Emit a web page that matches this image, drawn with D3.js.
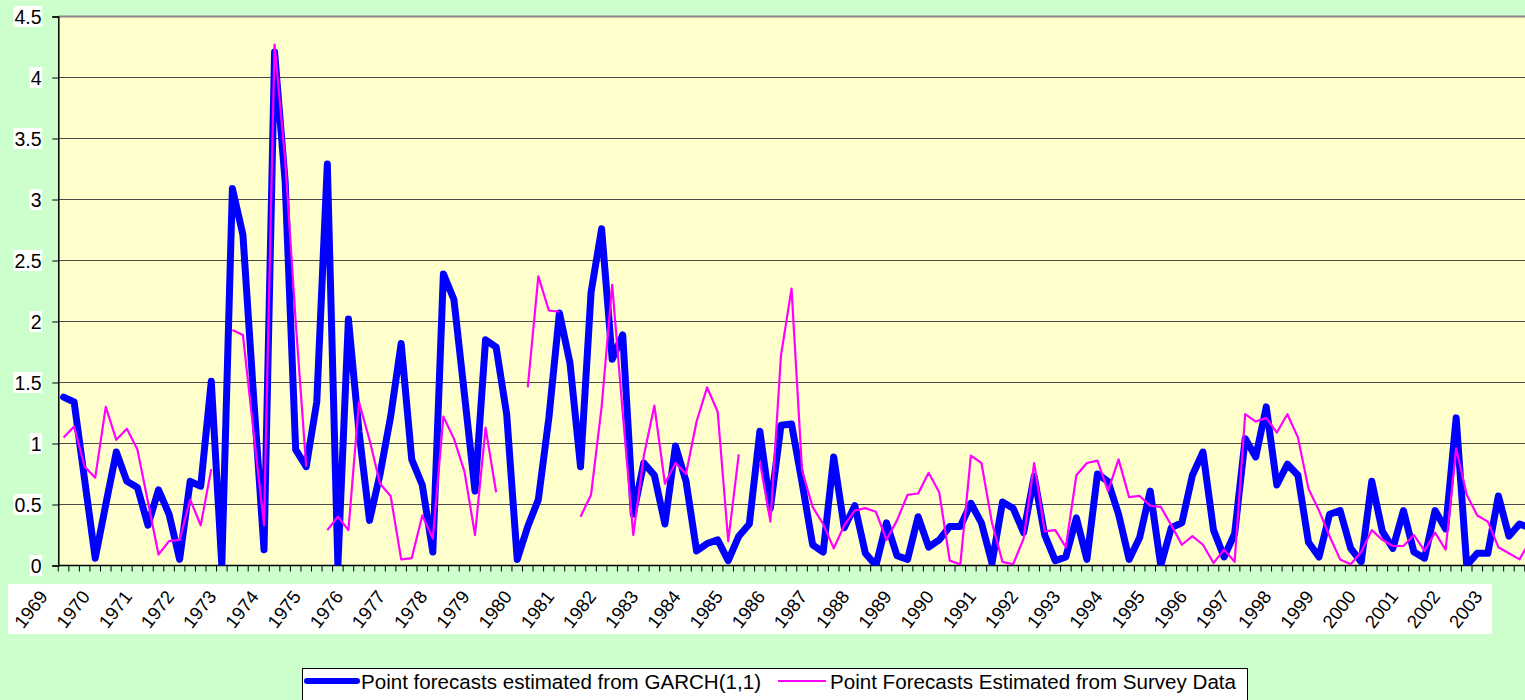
<!DOCTYPE html>
<html><head><meta charset="utf-8">
<script src="https://cdn.jsdelivr.net/npm/d3@7"></script>
<style>
html,body{margin:0;padding:0;overflow:hidden;background:#CCFFCC;}
svg{display:block;font-family:Arial,"Liberation Sans",sans-serif;}
</style>
</head><body>
<svg id="chart" width="1525" height="700"></svg>
<script>
// ---------- data ----------
const years = d3.range(1969, 2004); // tick labels 1969..2003
const quarters = ["Q1","Q2","Q3","Q4"];
const categories = years.flatMap(y => quarters.map(q => y + q));
const yTicks = [0,0.5,1,1.5,2,2.5,3,3.5,4,4.5];
const seriesNames = ["Point forecasts estimated from GARCH(1,1)", "Point Forecasts Estimated from Survey Data"];

const garch = [
1.38,1.34,0.70,0.06, 0.50,0.93,0.69,0.64, 0.33,0.62,0.42,0.05, 0.69,0.65,1.51,0.00,
3.09,2.71,1.40,0.13, 4.21,3.15,0.95,0.81, 1.34,3.29,0.00,2.02, 1.10,0.37,0.75,1.22,
1.82,0.87,0.66,0.11, 2.39,2.18,1.40,0.61, 1.85,1.79,1.24,0.05, 0.32,0.54,1.21,2.07,
1.66,0.81,2.24,2.76, 1.69,1.89,0.42,0.84, 0.74,0.34,0.98,0.69, 0.12,0.18,0.21,0.04,
0.24,0.34,1.10,0.47, 1.15,1.16,0.68,0.17, 0.11,0.89,0.31,0.49, 0.10,0.00,0.35,0.08,
0.05,0.40,0.15,0.21, 0.32,0.32,0.51,0.35, 0.02,0.52,0.47,0.27, 0.73,0.25,0.04,0.07,
0.39,0.05,0.75,0.69, 0.42,0.05,0.23,0.61, 0.00,0.31,0.35,0.74, 0.93,0.29,0.07,0.26,
1.04,0.89,1.30,0.66, 0.83,0.74,0.19,0.07, 0.42,0.45,0.14,0.03, 0.69,0.28,0.14,0.45,
0.11,0.06,0.45,0.30, 1.21,0.00,0.10,0.10, 0.57,0.24,0.34,0.31
];

const survey = [
1.05,1.14,0.81,0.72, 1.30,1.03,1.12,0.95, 0.52,0.09,0.20,0.21, 0.54,0.33,0.79,null,
1.93,1.89,1.10,0.33, 4.27,3.33,2.00,0.81, null,0.29,0.40,0.29, 1.34,1.03,0.67,0.57,
0.05,0.06,0.41,0.22, 1.22,1.04,0.77,0.25, 1.13,0.60,null,null, 1.46,2.37,2.09,2.08,
null,0.40,0.58,1.30, 2.30,1.25,0.25,0.90, 1.31,0.67,0.84,0.75, 1.18,1.46,1.26,0.20,
0.91,null,0.85,0.36, 1.72,2.27,0.78,0.48, 0.34,0.14,0.33,0.45, 0.47,0.44,0.21,0.37,
0.58,0.59,0.76,0.60, 0.04,0.01,0.90,0.84, 0.35,0.03,0.01,0.22, 0.84,0.28,0.29,0.15,
0.74,0.84,0.86,0.61, 0.87,0.56,0.57,0.49, 0.48,0.33,0.17,0.24, 0.17,0.02,0.13,0.03,
1.24,1.18,1.21,1.09, 1.24,1.05,0.63,0.45, 0.24,0.05,0.01,0.11, 0.29,0.21,0.16,0.16,
0.25,0.12,0.27,0.13, 0.96,0.58,0.41,0.36, 0.15,0.10,0.05,0.20
];

// ---------- layout ----------
const svg = d3.select("#chart");
const pLeft = 58.3, step = 10.55;
const pRight = pLeft + categories.length * step; // extends past the window edge
const pTop = 16.5, pBottom = 565.5;

const x = d3.scaleBand().domain(categories).range([pLeft, pRight]).padding(0);
const y = d3.scaleLinear().domain([0, 4.5]).range([pBottom, pTop]);
const cx = c => x(c) + x.bandwidth() / 2;

// plot background
svg.append("rect").attr("x", pLeft).attr("y", pTop)
  .attr("width", pRight - pLeft).attr("height", pBottom - pTop).attr("fill", "#FFFFCC");

// gridlines
svg.append("g").selectAll("line").data(yTicks.filter(t => t > 0 && t < 4.5)).join("line")
  .attr("x1", pLeft).attr("x2", pRight)
  .attr("y1", d => y(d)).attr("y2", d => y(d))
  .attr("stroke", "#4a4a4a").attr("stroke-width", 1);
// top border
svg.append("line").attr("x1", pLeft).attr("x2", pRight).attr("y1", pTop).attr("y2", pTop)
  .attr("stroke", "#888").attr("stroke-width", 2);

// y axis
const yAxis = svg.append("g").attr("transform", `translate(${pLeft},0)`)
  .call(d3.axisLeft(y).tickValues(yTicks).tickSize(6).tickFormat(d3.format("")));
yAxis.select(".domain").attr("stroke", "#000").attr("stroke-width", 1.5);
yAxis.selectAll(".tick line").attr("stroke", "#000");
yAxis.selectAll(".tick text").remove();
// y labels with white boxes
const yl = svg.append("g");
yTicks.forEach(t => {
  const g = yl.append("g");
  const txt = g.append("text").attr("x", 41.5).attr("y", y(t) + 7.5)
    .attr("text-anchor", "end").attr("font-size", 19.5).attr("fill", "#000")
    .text(d3.format("")(t));
  const bb = txt.node().getBBox();
  g.insert("rect", "text").attr("x", bb.x - 1).attr("y", y(t) - 10.5)
    .attr("width", bb.width + 1.5).attr("height", 21).attr("fill", "#fff");
});

// x axis line + ticks
const xa = svg.append("g");
xa.append("line").attr("x1", pLeft).attr("x2", pRight).attr("y1", pBottom).attr("y2", pBottom)
  .attr("stroke", "#000").attr("stroke-width", 1.5);
const tickPos = categories.map(c => x(c)).concat([pRight]);
xa.selectAll("line.t").data(tickPos).join("line").attr("class", "t")
  .attr("x1", d => d).attr("x2", d => d).attr("y1", pBottom).attr("y2", pBottom + 6)
  .attr("stroke", "#000").attr("stroke-width", 1);

// x label band
svg.append("rect").attr("x", 8).attr("y", 584).attr("width", 1484).attr("height", 50).attr("fill", "#fff");
svg.append("g").selectAll("text").data(years).join("text")
  .attr("transform", d => `translate(${cx(d + "Q1") - 15},${597}) rotate(-52)`)
  .attr("text-anchor", "end").attr("font-size", 18.5).attr("fill", "#000")
  .text(d => d);

// lines
svg.append("clipPath").attr("id", "clip").append("rect")
  .attr("x", pLeft).attr("y", pTop).attr("width", pRight - pLeft).attr("height", pBottom - pTop);
const line = d3.line().defined(d => d.v !== null).x(d => cx(d.c)).y(d => y(d.v));
const lines = svg.append("g").attr("clip-path", "url(#clip)");
lines.append("path").datum(categories.map((c, i) => ({c, v: garch[i]})))
  .attr("d", line).attr("fill", "none").attr("stroke", "#0000FF").attr("stroke-width", 7)
  .attr("stroke-linejoin", "round").attr("stroke-linecap", "round");
lines.append("path").datum(categories.map((c, i) => ({c, v: survey[i]})))
  .attr("d", line).attr("fill", "none").attr("stroke", "#FF00FF").attr("stroke-width", 2.2)
  .attr("stroke-linejoin", "round");

// legend
const lg = svg.append("g");
lg.append("rect").attr("x", 302.5).attr("y", 668.5).attr("width", 945).attr("height", 45)
  .attr("fill", "#fff").attr("stroke", "#000").attr("stroke-width", 1);
lg.append("line").attr("x1", 307).attr("x2", 357).attr("y1", 681).attr("y2", 681)
  .attr("stroke", "#0000FF").attr("stroke-width", 6).attr("stroke-linecap", "round");
lg.append("text").attr("x", 361).attr("y", 689).attr("font-size", 20.5).attr("fill", "#000")
  .attr("textLength", 400).attr("lengthAdjust", "spacingAndGlyphs").text(seriesNames[0]);
lg.append("line").attr("x1", 778).attr("x2", 826).attr("y1", 681).attr("y2", 681)
  .attr("stroke", "#FF00FF").attr("stroke-width", 2);
lg.append("text").attr("x", 830).attr("y", 689).attr("font-size", 20.5).attr("fill", "#000")
  .attr("textLength", 406).attr("lengthAdjust", "spacingAndGlyphs").text(seriesNames[1]);
</script>
</body></html>
